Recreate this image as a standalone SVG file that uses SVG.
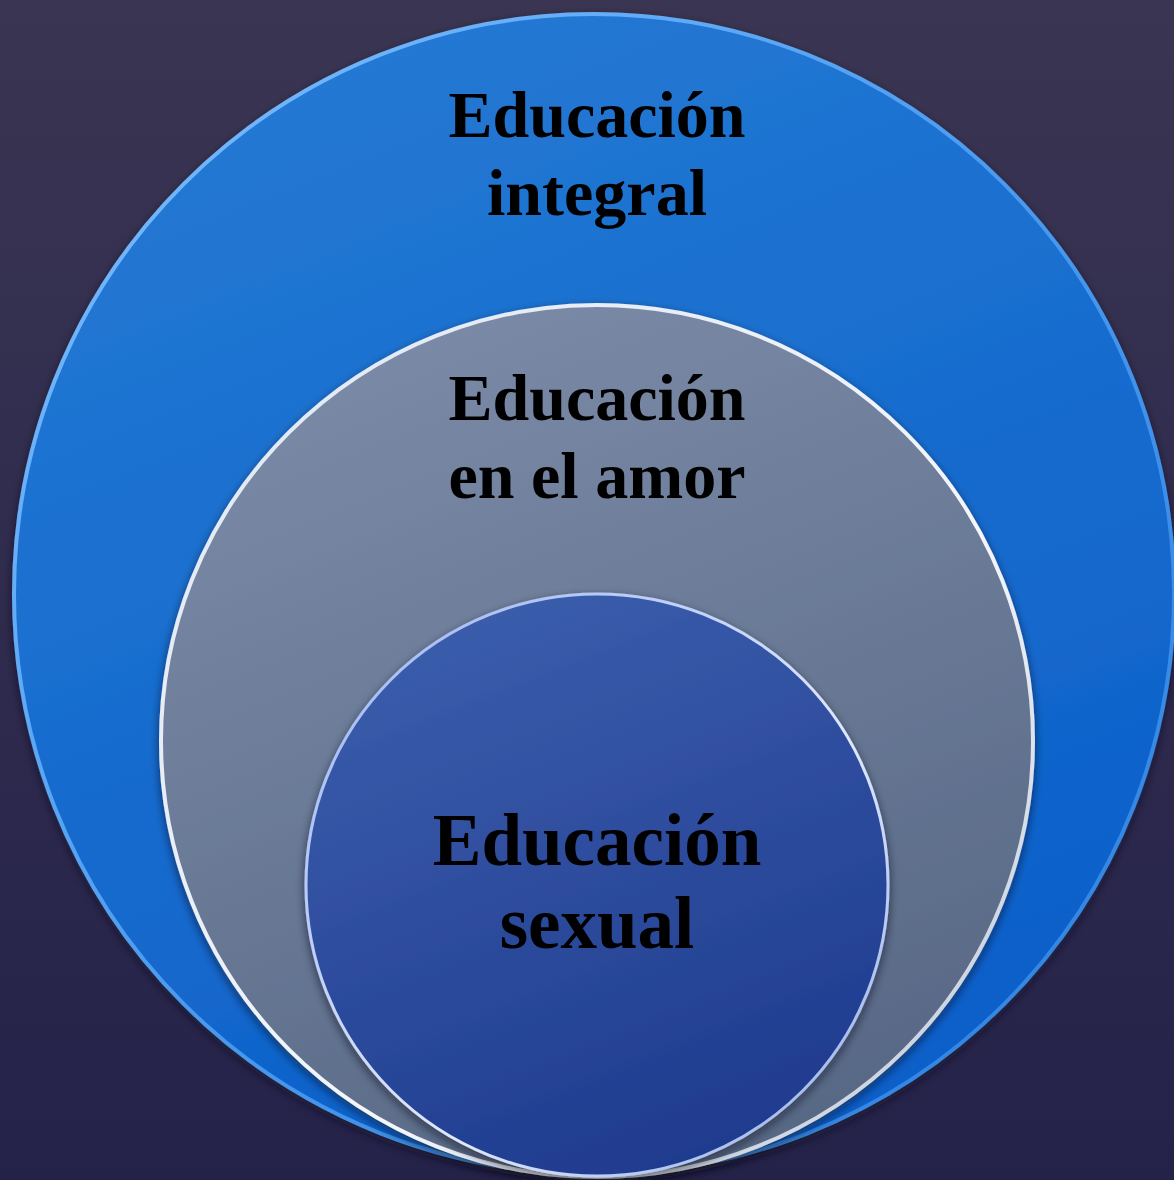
<svg xmlns="http://www.w3.org/2000/svg" width="1174" height="1180" viewBox="0 0 1174 1180">
<defs>
<linearGradient id="bg" x1="0" y1="0" x2="0" y2="1">
<stop offset="0" stop-color="#3a3552"/>
<stop offset="1" stop-color="#25224a"/>
</linearGradient>
<linearGradient id="gOuter" x1="0.3" y1="0" x2="0.7" y2="1">
<stop offset="0" stop-color="#2479d3"/>
<stop offset="1" stop-color="#0a5ec9"/>
</linearGradient>
<linearGradient id="gMid" x1="0.3" y1="0" x2="0.7" y2="1">
<stop offset="0" stop-color="#7b8ba7"/>
<stop offset="1" stop-color="#566784"/>
</linearGradient>
<linearGradient id="gInner" x1="0.3" y1="0" x2="0.7" y2="1">
<stop offset="0" stop-color="#3b5dac"/>
<stop offset="1" stop-color="#1e3a8d"/>
</linearGradient>
<linearGradient id="sOuter" x1="0" y1="0" x2="1" y2="1">
<stop offset="0" stop-color="#7fc0ff"/>
<stop offset="0.5" stop-color="#4a9af0"/>
<stop offset="1" stop-color="#2b7fe0"/>
</linearGradient>
<linearGradient id="sMid" x1="0" y1="0" x2="1" y2="1">
<stop offset="0" stop-color="#dfe6f2"/>
<stop offset="0.6" stop-color="#f4f6fa"/>
<stop offset="1" stop-color="#b9c3d3"/>
</linearGradient>
<linearGradient id="sInner" x1="0" y1="0" x2="1" y2="1">
<stop offset="0" stop-color="#9bb4f0"/>
<stop offset="0.6" stop-color="#dfe8ff"/>
<stop offset="1" stop-color="#8aa6e8"/>
</linearGradient>
<filter id="shadow" x="-10%" y="-10%" width="120%" height="120%">
<feDropShadow dx="0" dy="4" stdDeviation="5" flood-color="#0a0a20" flood-opacity="0.6"/>
</filter>
</defs>
<style>
.lbl{font-family:"Liberation Serif","DejaVu Serif",serif;font-weight:bold;fill:#000;text-anchor:middle}
</style>
<rect x="0" y="0" width="1174" height="1180" fill="url(#bg)"/>
<g id="outer">
<circle cx="594" cy="594" r="580" fill="url(#gOuter)" stroke="url(#sOuter)" stroke-width="4" filter="url(#shadow)"/>
<text class="lbl" x="597" y="137" font-size="66">Educación</text>
<text class="lbl" x="597" y="215" font-size="66">integral</text>
</g>
<g id="middle">
<circle cx="597" cy="741" r="436" fill="url(#gMid)" stroke="url(#sMid)" stroke-width="4" filter="url(#shadow)"/>
<text class="lbl" x="597" y="420" font-size="66">Educación</text>
<text class="lbl" x="597" y="498" font-size="66">en el amor</text>
</g>
<g id="inner">
<circle cx="597" cy="885" r="291" fill="url(#gInner)" stroke="url(#sInner)" stroke-width="3" filter="url(#shadow)"/>
<text class="lbl" x="597" y="865" font-size="73">Educación</text>
<text class="lbl" x="597" y="948" font-size="73">sexual</text>
</g>
<g id="connectors"/>
</svg>
